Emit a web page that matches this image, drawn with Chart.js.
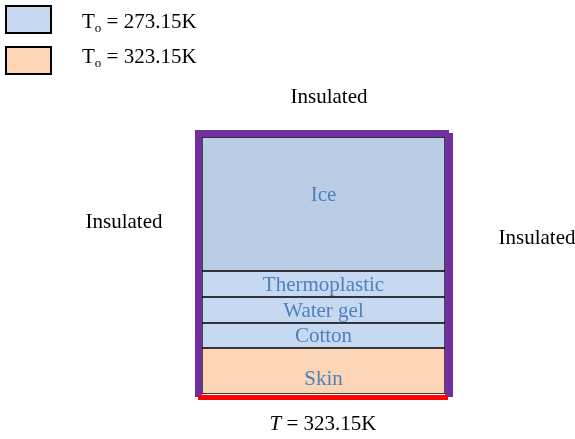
<!DOCTYPE html>
<html>
<head>
<meta charset="utf-8">
<script src="https://cdn.jsdelivr.net/npm/chart.js@4/dist/chart.umd.min.js"></script>
<style>
  html, body { margin: 0; padding: 0; background: #fff; }
  #wrap { width: 575px; height: 439px; }
</style>
</head>
<body>
<div id="wrap"><canvas id="layersChart" width="575" height="439"></canvas></div>
<script>
// Layers from the bottom (skin) up to the ice block, thickness
const layerNames = ['Skin', 'Cotton', 'Water gel', 'Thermoplastic', 'Ice'];
const layerThickness = [46, 25, 26, 26, 134];
const layerColors = ['#FBD5B5', '#C6D9F1', '#C6D9F1', '#C6D9F1', '#B9CDE5'];

// Legend entries (initial temperature)
const legendLabels = ['273.15K', '323.15K'];
const legendColors = ['#C6D9F1', '#FBD5B5'];

const serif = '"Liberation Serif", "Times New Roman", serif';
const textBlue = '#4F81BD';
const fs = 21;

// Draws the labels, the frame and the notes round the box
const diagramPlugin = {
    id: 'diagram',
    afterDatasetsDraw(chart) {
        const ctx = chart.ctx;
        const area = chart.chartArea;
        ctx.save();

        // layer names in the middle of each bar segment
        ctx.fillStyle = textBlue;
        ctx.font = fs + 'px ' + serif;
        ctx.textAlign = 'center';
        ctx.textBaseline = 'middle';
        chart.data.datasets.forEach((ds, i) => {
            const bar = chart.getDatasetMeta(i).data[0];
            let y = (bar.y + bar.base) / 2;
            if (ds.label === 'Ice') y = bar.y + 57;
            if (ds.label === 'Skin') y += 7;
            ctx.fillText(ds.label, bar.x, y + 1);
        });

        // insulated walls (purple)
        ctx.fillStyle = '#7030A0';
        ctx.fillRect(area.left - 7, area.top - 7, 7, area.bottom - area.top + 10);
        ctx.fillRect(area.left - 7, area.top - 7, area.right - area.left + 11, 7);
        ctx.fillRect(area.right, area.top - 4, 8, area.bottom - area.top + 7);

        // fixed temperature at the bottom (red)
        ctx.fillStyle = '#FF0000';
        ctx.fillRect(area.left - 4, area.bottom + 1, area.right - area.left + 7, 5);

        // notes
        ctx.fillStyle = '#000';
        ctx.font = fs + 'px ' + serif;
        ctx.textAlign = 'center';
        ctx.fillText('Insulated', 329, 97);
        ctx.fillText('Insulated', 124, 222);
        ctx.fillText('Insulated', 537, 238);

        // bottom boundary condition
        ctx.textAlign = 'left';
        ctx.font = 'italic ' + fs + 'px ' + serif;
        const tw = ctx.measureText('T').width;
        ctx.font = fs + 'px ' + serif;
        const rest = ' = 323.15K';
        const rw = ctx.measureText(rest).width;
        const x0 = 323 - (tw + rw) / 2;
        ctx.font = 'italic ' + fs + 'px ' + serif;
        ctx.fillText('T', x0, 424);
        ctx.font = fs + 'px ' + serif;
        ctx.fillText(rest, x0 + tw, 424);

        // legend boxes
        legendLabels.forEach((lab, i) => {
            const by = 6 + i * 41;
            ctx.fillStyle = legendColors[i];
            ctx.fillRect(6, by, 45, 27);
            ctx.strokeStyle = '#000';
            ctx.lineWidth = 2;
            ctx.strokeRect(6, by, 45, 27);

            const base = 28 + i * 35;
            ctx.fillStyle = '#000';
            ctx.textBaseline = 'alphabetic';
            ctx.font = fs + 'px ' + serif;
            ctx.fillText('T', 82, base);
            const t = ctx.measureText('T').width;
            ctx.font = '13px ' + serif;
            ctx.fillText('o', 82 + t, base + 4);
            const o = ctx.measureText('o').width;
            ctx.font = fs + 'px ' + serif;
            ctx.fillText(' = ' + lab, 82 + t + o, base);
            ctx.textBaseline = 'middle';
        });

        ctx.restore();
    }
};

const total = layerThickness.reduce((a, b) => a + b, 0);

new Chart(document.getElementById('layersChart'), {
    type: 'bar',
    data: {
        labels: ['layers'],
        datasets: layerNames.map((name, i) => ({
            label: name,
            data: [layerThickness[i]],
            backgroundColor: layerColors[i],
            borderColor: '#000',
            borderWidth: 1,
            borderSkipped: false,
            barPercentage: 1,
            categoryPercentage: 1
        }))
    },
    options: {
        responsive: false,
        animation: false,
        layout: { padding: { left: 202, right: 130, top: 137, bottom: 45 } },
        scales: {
            x: { display: false, stacked: true },
            y: { display: false, stacked: true, min: 0, max: total }
        },
        plugins: {
            legend: { display: false },
            tooltip: { enabled: false }
        }
    },
    plugins: [diagramPlugin]
});
</script>
</body>
</html>
